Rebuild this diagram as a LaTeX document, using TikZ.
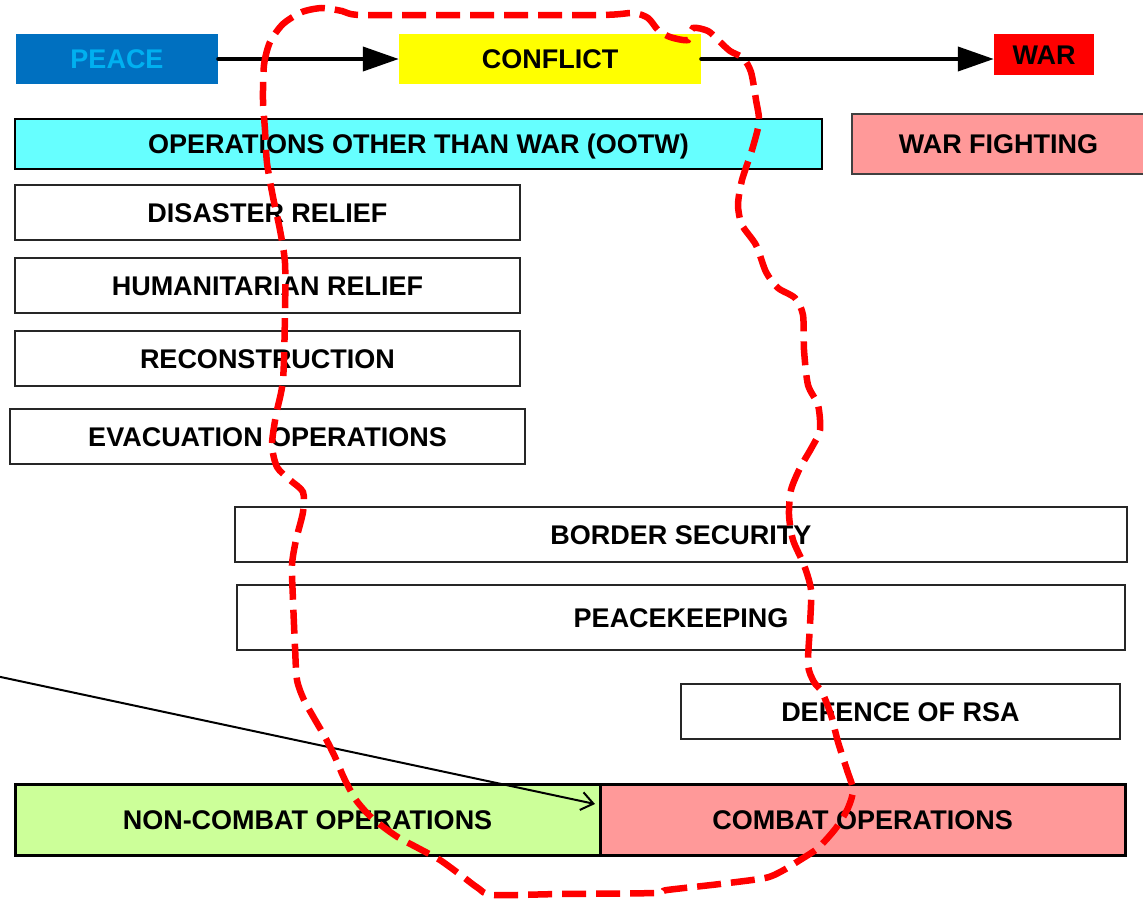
\documentclass[tikz,border=0pt]{standalone}
\usepackage{fontspec}
\setmainfont{Liberation Sans}
\usetikzlibrary{arrows.meta}
\definecolor{peaceblue}{HTML}{0070C0}
\definecolor{peacetext}{HTML}{00B0F0}
\definecolor{conflictyellow}{HTML}{FFFF00}
\definecolor{warred}{HTML}{FF0000}
\definecolor{ootwcyan}{HTML}{66FFFF}
\definecolor{combatpink}{HTML}{FF9999}
\definecolor{noncombatgreen}{HTML}{CCFF99}
\tikzset{
  lbl/.style={font=\fontsize{27}{30}\selectfont\bfseries, inner sep=0pt, align=center,
              text height=19.5pt, text depth=0pt},
  stage/.style={lbl, draw=none},
  opbox/.style={lbl, draw=black!85, line width=1.2pt, fill=white},
  bandbox/.style={lbl, draw=black, line width=2pt},
  basebox/.style={lbl, draw=black, line width=3pt},
  bigarrow/.style={line width=4pt, line cap=round, -{Triangle[length=36pt,width=24pt]}},
  thinarrow/.style={line width=2pt, -{Straight Barb[length=12pt,width=18pt]}},
  loopline/.style={draw=warred, line width=6.5pt, dash pattern=on 24pt off 10pt}
}
\begin{document}
\begin{tikzpicture}[x=1pt, y=-1pt]
\useasboundingbox (0,0) rectangle (1143,900);

% escalation scale
\node[stage, fill=peaceblue, text=peacetext, minimum width=202, minimum height=50] (peace) at (117,59) {PEACE};
\node[stage, fill=conflictyellow, minimum width=302, minimum height=50] (conflict) at (550,59) {CONFLICT};
\node[stage, fill=warred, minimum width=100, minimum height=41] (war) at (1044,54.5) {WAR};
\draw[bigarrow] (peace.east) -- (conflict.west);
\draw[bigarrow] (conflict.east) -- (conflict.east -| war.west);

% operation categories
\node[bandbox, fill=ootwcyan, minimum width=807, minimum height=50] (ootw) at (418.5,144) {OPERATIONS OTHER THAN WAR (OOTW)};
\node[lbl, draw=black!75, line width=1.5pt, fill=combatpink, minimum width=293, minimum height=60] (warfight) at (998.5,144) {WAR FIGHTING};

\node[opbox, minimum width=505, minimum height=55] (disaster) at (267.5,212.5) {DISASTER RELIEF};
\node[opbox, minimum width=505, minimum height=55] (humanitarian) at (267.5,285.5) {HUMANITARIAN RELIEF};
\node[opbox, minimum width=505, minimum height=55] (reconstruction) at (267.5,358.5) {RECONSTRUCTION};
\node[opbox, minimum width=515, minimum height=55] (evacuation) at (267.5,436.5) {EVACUATION OPERATIONS};
\node[opbox, minimum width=892, minimum height=55] (border) at (681,534.5) {BORDER SECURITY};
\node[opbox, minimum width=888, minimum height=65] (peacekeeping) at (681,617.5) {PEACEKEEPING};
\node[opbox, minimum width=439, minimum height=55] (defence) at (900.5,711.5) {DEFENCE OF RSA};

\node[basebox, fill=noncombatgreen, minimum width=585, minimum height=71] (noncombat) at (307.5,819.5) {NON-COMBAT OPERATIONS};
\node[basebox, fill=combatpink, minimum width=525, minimum height=71] (combat) at (862.5,819.5) {COMBAT OPERATIONS};

% pointer into the combat boundary
\coordinate (ptrstart) at (-4,676);
\coordinate (ptrtip) at (595,804);
\draw[thinarrow] (ptrstart) -- (ptrtip);

% freehand outline of the conflict zone
\draw[loopline] plot[smooth cycle, tension=0.45] coordinates {
  (263,100) (264,65) (270,42) (283,24) (302,12) (322,8) (342,11) (360,15)
  (450,15) (600,15) (633,13) (648,18) (658,30) (670,37) (688,40) (693,28)
  (708,31) (718,40) (730,51) (743,58) (751,72) (756,100) (759,122) (752,150)
  (742,180) (738,205) (742,225) (756,245) (766,272) (778,288) (795,298)
  (803,315) (804,350) (808,385) (818,405) (820,430) (812,447) (800,468)
  (791,490) (789,515) (793,540) (804,565) (811,590) (810,625) (808,665)
  (814,682) (822,692) (831,715) (838,742) (847,770) (853,790) (848,808)
  (836,828) (818,848) (800,860) (782,871) (765,878) (720,884) (667,890)
  (655,893) (560,894) (493,895) (478,888) (462,876) (440,860) (418,848)
  (396,836) (372,818) (356,800) (344,778) (335,757) (325,737) (314,718)
  (304,700) (297,680) (295,647) (293,600) (292,565) (296,540) (303,512)
  (303,492) (290,480) (277,467) (272,445) (276,415) (283,380) (285,313)
  (285,263) (280,230) (273,197) (267,163) (265,130)};
\end{tikzpicture}
\end{document}
